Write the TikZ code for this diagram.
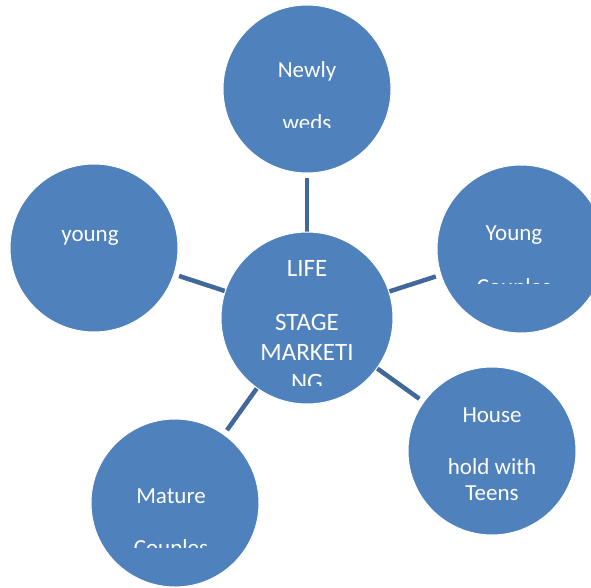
\documentclass[tikz,border=0pt]{standalone}
\usepackage{fontspec}
\setmainfont{Carlito}
\usetikzlibrary{backgrounds}
\definecolor{bub}{RGB}{79,129,189}
\definecolor{spk}{RGB}{64,104,154}
\begin{document}
\begin{tikzpicture}[x=1pt,y=-1pt,
  bubble/.style={circle,fill=bub,draw=white,line width=1pt,minimum size=168pt,inner sep=0pt},
  hub/.style={bubble,minimum size=172pt},
  spoke/.style={draw=spk,line width=4.5pt,shorten >=5pt},
  lbl/.style={text=white,anchor=base,inner sep=0pt,font=\fontsize{23}{28}\selectfont},
  hlbl/.style={lbl,font=\fontsize{25}{30}\selectfont}]
\useasboundingbox (0,0) rectangle (591,588);
% bubbles
\node[hub]    (C) at (307,318) {};
\node[bubble] (N) at (307,89)  {};
\node[bubble] (Y) at (94,248)  {};
\node[bubble] (R) at (521,249) {};
\node[bubble] (H) at (492,451) {};
\node[bubble] (M) at (175,503) {};
% spokes
\begin{scope}[on background layer]
  \draw[spoke] (C.center) -- (N);
  \draw[spoke] (C.center) -- (Y);
  \draw[spoke] (C.center) -- (R);
  \draw[spoke] (C.center) -- (H);
  \draw[spoke] (C.center) -- (M);
\end{scope}
% hub text
\node[hlbl] (c1) at (307,276) {LIFE};
\node[hlbl] (c2) at (307,330) {STAGE};
\node[hlbl] (c3) at (307,360) {MARKETI};
\begin{scope}
  \clip (200,300) rectangle (420,385);
  \node[hlbl] (c4) at (307,390) {NG};
\end{scope}
% top
\node[lbl] (n1) at (307,78) {Newly};
\begin{scope}
  \clip (200,90) rectangle (420,128);
  \node[lbl] (n2) at (307,131) {weds};
\end{scope}
% left
\node[lbl] (y1) at (90,241) {young};
% right
\node[lbl] (r1) at (514,240) {Young};
\begin{scope}
  \clip (420,250) rectangle (591,283);
  \node[lbl] (r2) at (514,294) {Couples};
\end{scope}
% lower right
\node[lbl] (h1) at (492,422) {House};
\node[lbl] (h2) at (492,474) {hold with};
\node[lbl] (h3) at (492,500) {Teens};
% lower left
\node[lbl] (m1) at (171,503) {Mature};
\begin{scope}
  \clip (80,510) rectangle (270,547);
  \node[lbl] (m2) at (171,555) {Couples};
\end{scope}
\end{tikzpicture}
\end{document}
